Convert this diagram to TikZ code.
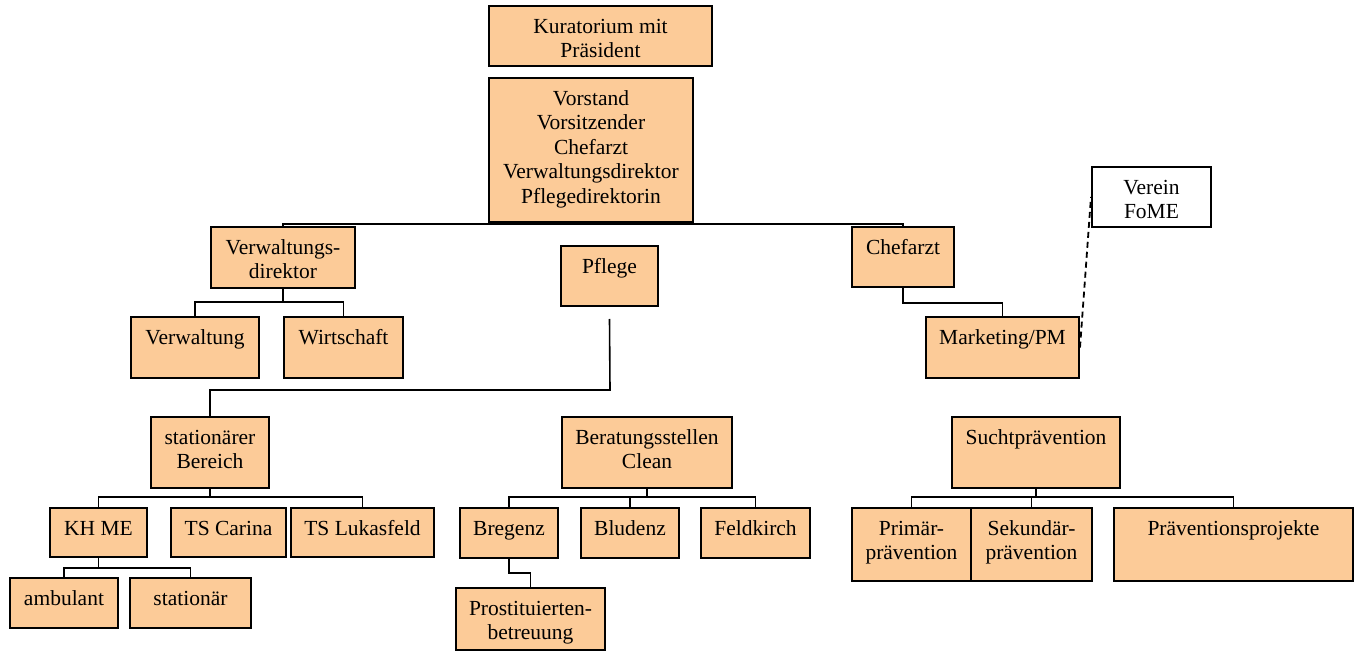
\documentclass[tikz,border=0pt]{standalone}
\usepackage{fontspec}
\setmainfont{Liberation Serif}
\newfontfamily\orgfont{Liberation Serif}
\definecolor{orgfill}{HTML}{FCCB98}

\begin{document}
\begin{tikzpicture}[
  x=1pt, y=-1pt,
  font=\orgfont\fontsize{21.5}{24.5}\selectfont,
  box/.style={draw, line width=2pt, fill=orgfill, rectangle, inner sep=0pt},
  plain/.style={box, fill=white},
  sz/.style 2 args={minimum width=#1pt, minimum height=#2pt},
  txt/.style={anchor=north, align=center, inner sep=0pt, yshift=-11pt},
  conn/.style={line width=1.6pt},
  link/.style={line width=1.8pt, dash pattern=on 6pt off 4pt}
]
\useasboundingbox (0,0) rectangle (1360,652);

\node[box, sz={223}{60}, label={[txt]north:{\strut Kuratorium mit\\Präsident}}] (kuratorium) at (600.5,36) {};
\node[box, sz={204}{144}, label={[txt]north:{\strut Vorstand\\Vorsitzender\\Chefarzt\\Verwaltungsdirektor\\Pflegedirektorin}}] (vorstand) at (591,150) {};

\node[box, sz={144}{61}, label={[txt]north:{\strut Verwaltungs-\\direktor}}] (vwdir) at (283,257.5) {};
\node[box, sz={97}{60}, label={[txt]north:{\strut Pflege}}] (pflege) at (609.5,276) {};
\node[box, sz={102}{60}, label={[txt]north:{\strut Chefarzt}}] (chefarzt) at (903,257) {};
\node[plain, sz={119}{60}, label={[txt]north:{\strut Verein\\FoME}}] (verein) at (1151.5,197) {};

\node[box, sz={128}{61}, label={[txt]north:{\strut Verwaltung}}] (verwaltung) at (195,347.5) {};
\node[box, sz={119}{61}, label={[txt]north:{\strut Wirtschaft}}] (wirtschaft) at (343.5,347.5) {};
\node[box, sz={153}{61}, label={[txt]north:{\strut Marketing/PM}}] (marketing) at (1002.5,347.5) {};

\node[box, sz={118}{71}, label={[txt]north:{\strut stationärer\\Bereich}}] (stationaer) at (210,452.5) {};
\node[box, sz={170}{71}, label={[txt]north:{\strut Beratungsstellen\\Clean}}] (beratung) at (647,452.5) {};
\node[box, sz={168}{71}, label={[txt]north:{\strut Suchtprävention}}] (sucht) at (1036,452.5) {};

\node[box, sz={97}{49}, label={[txt]north:{\strut KH ME}}] (khme) at (98.5,532.5) {};
\node[box, sz={115}{49}, label={[txt]north:{\strut TS Carina}}] (carina) at (228.5,532.5) {};
\node[box, sz={143}{49}, label={[txt]north:{\strut TS Lukasfeld}}] (lukasfeld) at (362.5,532.5) {};
\node[box, sz={98}{50}, label={[txt]north:{\strut Bregenz}}] (bregenz) at (509,533) {};
\node[box, sz={98}{50}, label={[txt]north:{\strut Bludenz}}] (bludenz) at (630,533) {};
\node[box, sz={109}{50}, label={[txt]north:{\strut Feldkirch}}] (feldkirch) at (755.5,533) {};
\node[box, sz={119}{73}, label={[txt]north:{\strut Primär-\\prävention}}] (primaer) at (911.5,544.5) {};
\node[box, sz={121}{73}, label={[txt]north:{\strut Sekundär-\\prävention}}] (sekundaer) at (1031.5,544.5) {};
\node[box, sz={239}{73}, label={[txt]north:{\strut Präventionsprojekte}}] (projekte) at (1233.5,544.5) {};

\node[box, sz={108}{50}, label={[txt]north:{\strut ambulant}}] (ambulant) at (64,603) {};
\node[box, sz={121}{50}, label={[txt]north:{\strut stationär}}] (stationaer2) at (190.5,603) {};
\node[box, sz={149}{62}, label={[txt]north:{\strut Prostituierten-\\betreuung}}] (prostituierten) at (530.5,619) {};

\coordinate (topbus) at (592,224);
\coordinate (vwbus) at (283,302);
\coordinate (chefbend) at (903,303);
\coordinate (pflegefoot) at ([yshift=-12pt]pflege.south);
\coordinate (pflegebend) at (610,390);
\coordinate (statbus) at (210,497);
\coordinate (khbus) at (98.5,568);
\coordinate (beratbus) at (647,497);
\coordinate (bregbend) at (509,573);
\coordinate (suchtbus) at (1036,497);

\draw[conn] (vorstand.south) -- (topbus);
\draw[conn] (vwdir.north) |- (topbus) -| (chefarzt.north);
\draw[conn] (vwdir.south) -- (vwbus);
\draw[conn] (verwaltung.north) |- (vwbus) -| (wirtschaft.north);
\draw[conn] (chefarzt.south) -- (chefbend) -| (marketing.north);
\draw[link] (marketing.east) -- (verein.west);
\draw[conn] (pflegefoot) -- (pflegebend) -| (stationaer.north);
\draw[conn] (stationaer.south) -- (statbus);
\draw[conn] (khme.north) |- (statbus) -| (lukasfeld.north);
\draw[conn] (khme.south) -- (khbus);
\draw[conn] (ambulant.north) |- (khbus) -| (stationaer2.north);
\draw[conn] (beratung.south) -- (beratbus);
\draw[conn] (bregenz.north) |- (beratbus) -| (feldkirch.north);
\draw[conn] (bludenz.north) -- (bludenz.north |- beratbus);
\draw[conn] (bregenz.south) -- (bregbend) -| (prostituierten.north);
\draw[conn] (sucht.south) -- (suchtbus);
\draw[conn] (primaer.north) |- (suchtbus) -| (projekte.north);
\draw[conn] (sekundaer.north) -- (sekundaer.north |- suchtbus);
\end{tikzpicture}
\end{document}
